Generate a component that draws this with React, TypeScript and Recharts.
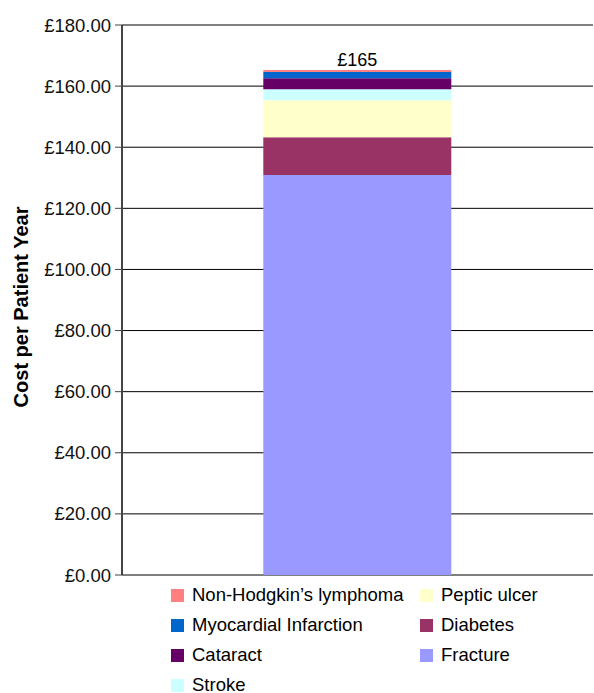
import React from "react";
import { BarChart, Bar, XAxis, YAxis, CartesianGrid, LabelList } from "recharts";

const categories = ["All"];
const fracture = [130.9];
const diabetes = [12.4];
const pepticUlcer = [12.1];
const stroke = [3.6];
const cataract = [3.6];
const myocardialInfarction = [2.0];
const nonHodgkins = [0.65];
const yTicks = [0, 20, 40, 60, 80, 100, 120, 140, 160, 180];
const totalLabel = ["£165"];

const seriesDefs = [
  { key: "fracture", name: "Fracture", color: "#9999FF", values: fracture },
  { key: "diabetes", name: "Diabetes", color: "#993366", values: diabetes },
  { key: "peptic", name: "Peptic ulcer", color: "#FFFFCC", values: pepticUlcer },
  { key: "stroke", name: "Stroke", color: "#CCFFFF", values: stroke },
  { key: "cataract", name: "Cataract", color: "#660066", values: cataract },
  { key: "mi", name: "Myocardial Infarction", color: "#0066CC", values: myocardialInfarction },
  { key: "nhl", name: "Non-Hodgkin\u2019s lymphoma", color: "#FF8080", values: nonHodgkins },
];

const legendOrder = ["nhl", "mi", "cataract", "stroke", "peptic", "diabetes", "fracture"];

const data = categories.map((c, i) => {
  const row: any = { cat: c, idx: i, total: totalLabel[i] };
  seriesDefs.forEach((s) => (row[s.key] = s.values[i]));
  return row;
});

const FONT = "'Liberation Sans', Arial, sans-serif";

export default function App() {
  return (
    <div style={{ position: "absolute", left: 0, top: 0, width: 594, height: 693, background: "#fff", fontFamily: FONT }}>
      <BarChart
        width={594}
        height={590}
        data={data}
        margin={{ top: 25, right: 1, bottom: 0, left: 0 }}
        barCategoryGap="30%"
      >
        <CartesianGrid vertical={false} stroke="#000" strokeWidth={1} />
        <XAxis dataKey="cat" hide />
        <XAxis
          xAxisId="edge"
          type="number"
          domain={[0, 1]}
          ticks={[0, 1]}
          tickFormatter={() => ""}
          height={15}
          axisLine={{ stroke: "#000", strokeWidth: 1 }}
          tickLine={{ stroke: "#000" }}
          tickSize={5}
          allowDataOverflow
        />
        <YAxis
          width={122}
          domain={[0, 180]}
          ticks={yTicks}
          interval={0}
          tickFormatter={(v: number) => "£" + v.toFixed(2)}
          tick={{ fill: "#111", fontSize: 18.5, fontFamily: FONT }}
          tickSize={7}
          tickMargin={4}
          axisLine={{ stroke: "#444", strokeWidth: 2 }}
          tickLine={{ stroke: "#444" }}
          label={({ viewBox }: any) => {
            const cx = viewBox.x + 21;
            const cy = viewBox.y + viewBox.height / 2 + 7;
            return (
              <text
                x={cx}
                y={cy}
                transform={`rotate(-90, ${cx}, ${cy})`}
                textAnchor="middle"
                dominantBaseline="central"
                fontSize={20}
                fontWeight="bold"
                fontFamily={FONT}
                fill="#000"
              >
                Cost per Patient Year
              </text>
            );
          }}
        />
        {seriesDefs.map((s, i) => (
          <Bar key={s.key} dataKey={s.key} name={s.name} stackId="a" fill={s.color} isAnimationActive={false}>
            {i === seriesDefs.length - 1 ? (
              <LabelList dataKey="total" position="top" offset={4} fill="#000" fontSize={18} fontFamily={FONT} />
            ) : null}
          </Bar>
        ))}
      </BarChart>
      <div
        style={{
          position: "absolute",
          left: 171,
          top: 589,
          display: "grid",
          gridTemplateRows: "repeat(4, 12px)",
          rowGap: 18,
          gridTemplateColumns: "249px 160px",
          gridAutoFlow: "column",
          fontSize: 18.5,
          lineHeight: "12px",
          color: "#000",
        }}
      >
        {legendOrder.map((k) => {
          const s = seriesDefs.find((d) => d.key === k)!;
          return (
            <div key={k} style={{ display: "flex", alignItems: "center", whiteSpace: "nowrap", height: 12 }}>
              <span style={{ display: "inline-block", width: 13, height: 13, background: s.color, marginRight: 8, flex: "none" }} />
              <span>{s.name}</span>
            </div>
          );
        })}
      </div>
    </div>
  );
}
